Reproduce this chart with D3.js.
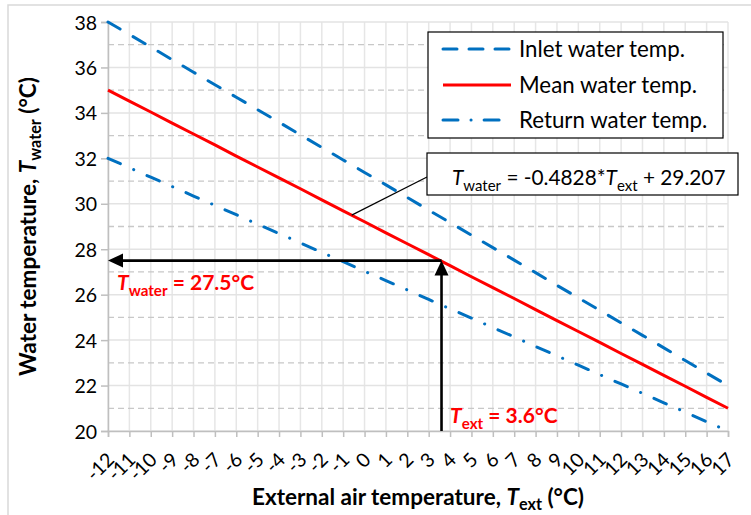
<!DOCTYPE html>
<html>
<head>
<meta charset="utf-8">
<script src="https://cdn.jsdelivr.net/npm/d3@7"></script>
<style>
  html, body { margin: 0; padding: 0; background: #fff; }
  svg { display: block; font-family: Lato, "Open Sans", sans-serif; }
</style>
</head>
<body>
<svg id="chart" width="751" height="515"></svg>
<script>
// External air temperature categories (°C)
const extTemps = [-12,-11,-10,-9,-8,-7,-6,-5,-4,-3,-2,-1,0,1,2,3,4,5,6,7,8,9,10,11,12,13,14,15,16,17];

// Water temperatures (°C) per category
const inletTemps = [38.00,37.45,36.90,36.34,35.79,35.24,34.69,34.14,33.59,33.03,
                    32.48,31.93,31.38,30.83,30.28,29.72,29.17,28.62,28.07,27.52,
                    26.97,26.41,25.86,25.31,24.76,24.21,23.66,23.10,22.55,22.00];
const meanTemps  = [35.00,34.52,34.04,33.55,33.07,32.59,32.10,31.62,31.14,30.66,
                    30.17,29.69,29.21,28.72,28.24,27.76,27.28,26.79,26.31,25.83,
                    25.34,24.86,24.38,23.90,23.41,22.93,22.45,21.97,21.48,21.00];
const returnTemps= [32.00,31.59,31.17,30.76,30.34,29.93,29.52,29.10,28.69,28.28,
                    27.86,27.45,27.03,26.62,26.21,25.79,25.38,24.97,24.55,24.14,
                    23.72,23.31,22.90,22.48,22.07,21.66,21.24,20.83,20.41,20.00];

const seriesNames = ["Inlet water temp.", "Mean water temp.", "Return water temp."];
const yTicks = [20,22,24,26,28,30,32,34,36,38];
const yMinor = [21,23,25,27,29,31,33,35,37];

// Design point
const designExt = 3.6;
const designWater = 27.5;
// Point on the mean line where the equation callout attaches
const calloutExt = -0.6;
const calloutWater = 29.5;

const svg = d3.select("#chart");
const plot = { left: 108, right: 728, top: 22, bottom: 431 };

const x = d3.scalePoint().domain(extTemps).range([plot.left, plot.right]);
const xLin = d3.scaleLinear().domain([extTemps[0], extTemps[extTemps.length - 1]]).range([plot.left, plot.right]);
const y = d3.scaleLinear().domain([20, 38]).range([plot.bottom, plot.top]);

const BLUE = "#0070C0", RED = "#FF0000";

// Chart frame
svg.append("rect").attr("x", 8).attr("y", 5).attr("width", 800).attr("height", 600)
  .attr("fill", "#fff").attr("stroke", "#d9d9d9").attr("stroke-width", 1.5);

// Gridlines
const grid = svg.append("g");
grid.selectAll(".vg").data(extTemps).join("line")
  .attr("x1", d => x(d)).attr("x2", d => x(d))
  .attr("y1", plot.bottom).attr("y2", plot.top)
  .attr("stroke", "#e6e6e6").attr("stroke-width", 1.5);
grid.selectAll(".hg").data(yTicks).join("line")
  .attr("x1", plot.left).attr("x2", plot.right)
  .attr("y1", d => y(d)).attr("y2", d => y(d))
  .attr("stroke", "#e3e3e3").attr("stroke-width", 1.5);
grid.selectAll(".hm").data(yMinor).join("line")
  .attr("x1", plot.left).attr("x2", plot.right)
  .attr("y1", d => y(d)).attr("y2", d => y(d))
  .attr("stroke", "#c8c8c8").attr("stroke-width", 1.3).attr("stroke-dasharray", "6,4");

// Axes
const yAxis = svg.append("g").attr("transform", `translate(${plot.left},0)`)
  .call(d3.axisLeft(y).tickValues(yTicks).tickSize(7).tickPadding(4).tickFormat(d3.format("d")));
const xAxis = svg.append("g").attr("transform", `translate(0,${plot.bottom})`)
  .call(d3.axisBottom(x).tickSize(6).tickFormat(d => String(d)));
[yAxis, xAxis].forEach(a => {
  a.select(".domain").attr("stroke", "#bfbfbf").attr("stroke-width", 1.5);
  a.selectAll(".tick line").attr("stroke", "#bfbfbf").attr("stroke-width", 1.5);
  a.selectAll("text").attr("fill", "#000").attr("font-family", "Lato, sans-serif").attr("font-size", 19.5);
});
yAxis.selectAll("text").attr("dy", "0.36em");
xAxis.selectAll(".tick text")
  .attr("text-anchor", "end")
  .attr("y", 0).attr("dy", 0)
  .attr("transform", "translate(7,30) rotate(-45)");

// Series
const line = d3.line().x((d, i) => x(extTemps[i])).y(d => y(d));
const series = [
  { name: seriesNames[0], values: inletTemps, color: BLUE, dash: "14,15" },
  { name: seriesNames[1], values: meanTemps, color: RED, dash: null },
  { name: seriesNames[2], values: returnTemps, color: BLUE, dash: "13.5,14.5,0.1,14.5" }
];
svg.append("g").selectAll("path").data(series).join("path")
  .attr("d", d => line(d.values))
  .attr("fill", "none")
  .attr("stroke", d => d.color)
  .attr("stroke-width", 3)
  .attr("stroke-linecap", d => d.dash ? "round" : "butt")
  .attr("stroke-dasharray", d => d.dash);

// Rich text helper: parts = [{t, italic, sub}]
function rich(g, parts, size, opts) {
  const t = g.append("text").attr("font-size", size).attr("fill", opts.fill || "#000")
    .attr("font-weight", opts.bold ? "bold" : "normal");
  const subShift = size * (opts.subShift || 0.27);
  let shift = 0;
  parts.forEach(p => {
    const s = t.append("tspan").text(p.t);
    const target = p.sub ? subShift : 0;
    if (target !== shift) { s.attr("dy", target - shift); shift = target; }
    if (p.italic) s.attr("font-style", "italic");
    if (p.sub) s.attr("font-size", size * 0.72);
  });
  return t;
}

// Design-point arrows
const ax = xLin(designExt), ay = y(designWater);
const arrows = svg.append("g");
arrows.append("line").attr("x1", ax).attr("x2", ax).attr("y1", plot.bottom).attr("y2", ay + 12)
  .attr("stroke", "#000").attr("stroke-width", 2.6);
arrows.append("line").attr("x1", ax).attr("x2", plot.left + 12).attr("y1", ay).attr("y2", ay)
  .attr("stroke", "#000").attr("stroke-width", 2.6);
arrows.append("path").attr("d", `M${ax},${ay} L${ax - 7},${ay + 15} L${ax + 7},${ay + 15} Z`).attr("fill", "#000");
arrows.append("path").attr("d", `M${plot.left},${ay} L${plot.left + 15},${ay - 7} L${plot.left + 15},${ay + 7} Z`).attr("fill", "#000");

// Design-point labels
rich(svg, [{t: "T", italic: true}, {t: "water", sub: true}, {t: " = 27.5°C"}], 21, { bold: true, fill: RED })
  .attr("x", 117).attr("y", 290);
rich(svg, [{t: "T", italic: true}, {t: "ext", sub: true}, {t: " = 3.6°C"}], 21, { bold: true, fill: RED })
  .attr("x", 450).attr("y", 423);

// Equation callout
svg.append("line").attr("x1", xLin(calloutExt)).attr("y1", y(calloutWater))
  .attr("x2", 427).attr("y2", 177).attr("stroke", "#000").attr("stroke-width", 1.2);
svg.append("rect").attr("x", 427).attr("y", 153).attr("width", 311).attr("height", 42)
  .attr("fill", "#fff").attr("stroke", "#000").attr("stroke-width", 1.2);
rich(svg, [{t: "T", italic: true}, {t: "water", sub: true}, {t: " = -0.4828*"},
           {t: "T", italic: true}, {t: "ext", sub: true}, {t: " + 29.207"}], 20.8, {})
  .attr("x", 452).attr("y", 185);

// Legend
const legend = svg.append("g");
legend.append("rect").attr("x", 428).attr("y", 32).attr("width", 295).attr("height", 106)
  .attr("fill", "#fff").attr("stroke", "#000").attr("stroke-width", 1.2);
const rowsY = [49, 85, 120];
series.forEach((s, i) => {
  legend.append("line").attr("x1", 443).attr("x2", 511).attr("y1", rowsY[i]).attr("y2", rowsY[i])
    .attr("stroke", s.color).attr("stroke-width", 3)
    .attr("stroke-linecap", s.dash ? "round" : "butt")
    .attr("stroke-dasharray", i === 0 ? "14,12" : (i === 2 ? "15,13,0.1,13" : null));
  legend.append("text").attr("x", 519).attr("y", rowsY[i] + 7.5)
    .attr("font-size", 22.3).attr("fill", "#000").text(s.name);
});

// Axis titles
rich(svg, [{t: "External air temperature, "}, {t: "T", italic: true}, {t: "ext", sub: true}, {t: " (°C)"}], 22.5, { bold: true, subShift: 0.2 })
  .attr("x", (plot.left + plot.right) / 2).attr("y", 505).attr("text-anchor", "middle");
rich(svg, [{t: "Water temperature, "}, {t: "T", italic: true}, {t: "water", sub: true}, {t: " (°C)"}], 22.5, { bold: true, subShift: 0.2 })
  .attr("text-anchor", "middle")
  .attr("transform", `translate(36,${(plot.top + plot.bottom) / 2}) rotate(-90)`);
</script>
</body>
</html>
